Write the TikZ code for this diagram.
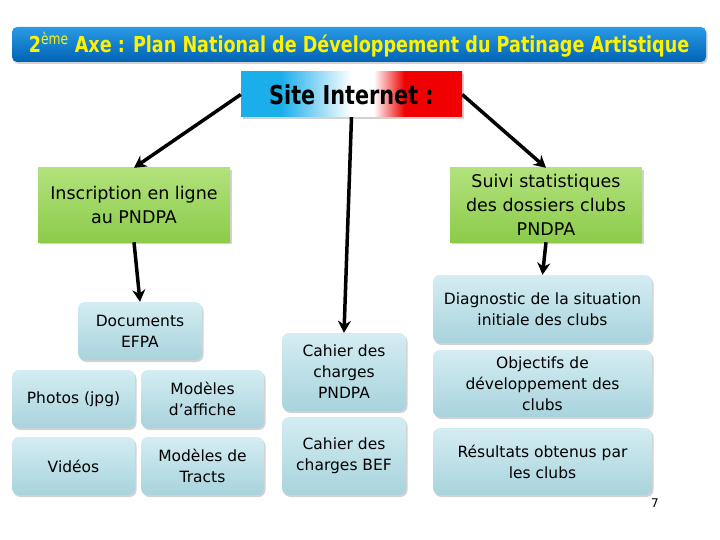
\documentclass[tikz,border=0pt]{standalone}
\usepackage{fontspec}
\setmainfont{DejaVu Sans}
\newfontfamily\condfont[FakeStretch=0.8]{DejaVu Sans}
\usetikzlibrary{arrows.meta,shadows}

\definecolor{boxtop}{HTML}{D4EDF2}
\definecolor{boxbot}{HTML}{A8D3DD}
\definecolor{greentop}{HTML}{B2E27C}
\definecolor{greenbot}{HTML}{8CCB4A}
\definecolor{bartop}{HTML}{2A9BE6}
\definecolor{barbot}{HTML}{0062B4}
\definecolor{flagblue}{HTML}{1AAEEB}
\definecolor{flagred}{HTML}{F00000}

% blue - white - red
\pgfdeclarehorizontalshading{flag}{100bp}{color(0bp)=(flagblue); color(34bp)=(flagblue);
    color(50bp)=(white); color(55bp)=(white); color(62bp)=(flagred); color(100bp)=(flagred)}

\tikzset{
    myshadow/.style={drop shadow={opacity=0.35, shadow xshift=1.5pt, shadow yshift=-2pt}},
    bluebox/.style={rounded corners=7pt, top color=boxtop, bottom color=boxbot, myshadow,
        align=center, inner sep=0pt, font=\fontsize{15.5}{21}\selectfont},
    greenbox/.style={top color=greentop, bottom color=greenbot, myshadow,
        align=center, inner sep=0pt, font=\fontsize{17.5}{24}\selectfont},
    arrow/.style={line width=3.5pt, -{Stealth[length=12pt,width=13pt]}}
}

\begin{document}
\begin{tikzpicture}[x=1pt, y=-1pt]
\useasboundingbox[fill=white] (0,0) rectangle (720,540);

% title
\node[rounded corners=5pt, top color=bartop, bottom color=barbot, myshadow,
      minimum width=694pt, minimum height=35pt, inner sep=0pt,
      text=yellow, font=\condfont\bfseries\fontsize{22}{24}\selectfont]
      (title) at (359,44.5) {2\textsuperscript{\mdseries ème} Axe : Plan National de Développement du Patinage Artistique};

% site
\node[shading=flag, myshadow,
      minimum width=221pt, minimum height=45pt, inner sep=0pt,
      font=\condfont\bfseries\fontsize{26}{28}\selectfont]
      (site) at (351.5,94.5) {Site Internet :};

% second level
\node[greenbox, minimum width=192pt, minimum height=74pt] (insc) at (134,205)
    {Inscription en ligne\\au PNDPA};
\node[greenbox, minimum width=192pt, minimum height=74pt] (suivi) at (546,205)
    {Suivi statistiques\\des dossiers clubs\\PNDPA};

% left column
\node[bluebox, minimum width=124pt, minimum height=58pt] (docs) at (140,331) {Documents\\EFPA};
\node[bluebox, minimum width=123pt, minimum height=58pt] (photos) at (73.5,399) {Photos (jpg)};
\node[bluebox, minimum width=123pt, minimum height=58pt] (affiche) at (202.5,399) {Modèles\\d’affiche};
\node[bluebox, minimum width=123pt, minimum height=58pt] (videos) at (73.5,466) {Vidéos};
\node[bluebox, minimum width=123pt, minimum height=58pt] (tracts) at (202.5,466) {Modèles de\\Tracts};

% middle column
\node[bluebox, minimum width=124pt, minimum height=78pt] (cpndpa) at (344,372) {Cahier des\\charges\\PNDPA};
\node[bluebox, minimum width=124pt, minimum height=78pt] (cbef) at (344,456) {Cahier des\\charges BEF};

% right column
\node[bluebox, minimum width=219pt, minimum height=68pt] (diag) at (542.5,309) {Diagnostic de la situation\\initiale des clubs};
\node[bluebox, minimum width=219pt, minimum height=67pt] (objs) at (542.5,383.5) {Objectifs de\\développement des\\clubs};
\node[bluebox, minimum width=219pt, minimum height=67pt] (resu) at (542.5,461.5) {Résultats obtenus par\\les clubs};

\node[font=\fontsize{12}{14}\selectfont] (page) at (655,503) {7};

% connectors
\draw[arrow] (site.west) -- (insc.north);
\draw[arrow] (site.east) -- (suivi.north);
\draw[arrow] (site.south) -- (cpndpa.north);
\draw[arrow] (insc.south) -- (docs.north);
\draw[arrow] (suivi.south) -- (diag.north);
\end{tikzpicture}
\end{document}
